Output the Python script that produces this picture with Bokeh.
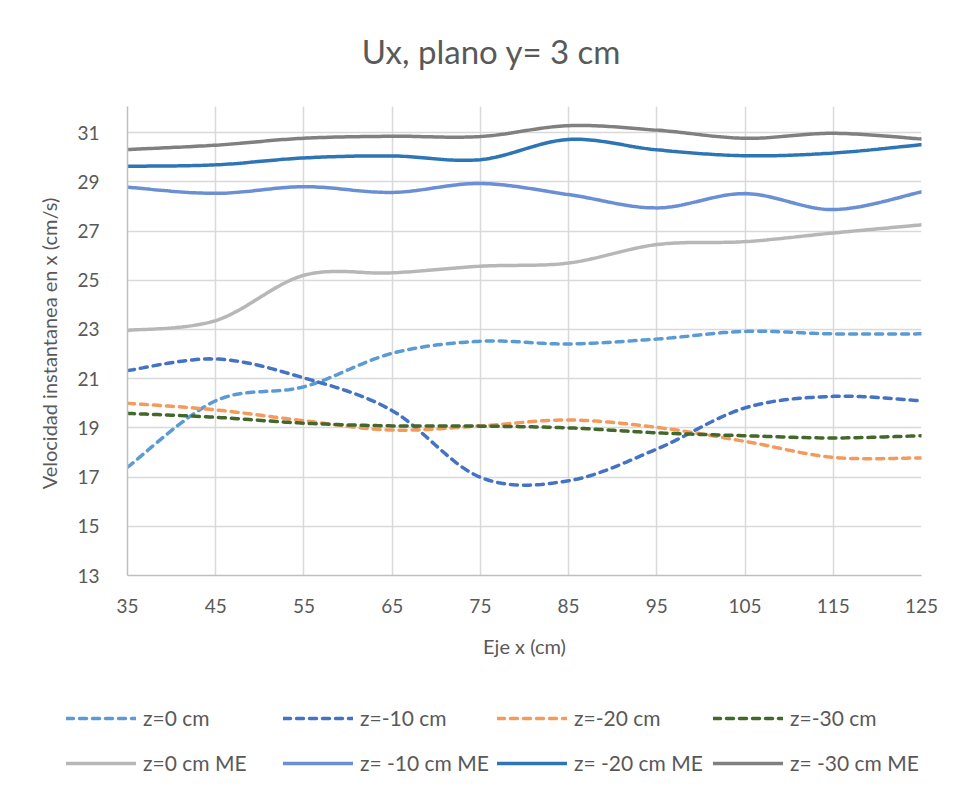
import numpy as np
from bokeh.plotting import figure
from bokeh.models import Legend, LegendItem, Range1d, FixedTicker, Label
from bokeh.embed import file_html
from bokeh.resources import INLINE

# ---- data ----
x_cm = [35, 45, 55, 65, 75, 85, 95, 105, 115, 125]
z0 = [17.4, 20.1, 20.67, 22.03, 22.52, 22.41, 22.61, 22.92, 22.82, 22.82]
z10 = [21.33, 21.8, 21.03, 19.7, 16.99, 16.85, 18.14, 19.81, 20.28, 20.1]
z20 = [20.0, 19.73, 19.29, 18.91, 19.08, 19.32, 19.02, 18.45, 17.8, 17.78]
z30 = [19.59, 19.43, 19.19, 19.08, 19.07, 19.0, 18.8, 18.68, 18.59, 18.68]
z0_me = [22.96, 23.36, 25.2, 25.3, 25.57, 25.7, 26.45, 26.57, 26.92, 27.25]
z10_me = [28.78, 28.53, 28.8, 28.57, 28.93, 28.48, 27.94, 28.52, 27.87, 28.59]
z20_me = [29.63, 29.69, 29.97, 30.05, 29.9, 30.72, 30.3, 30.06, 30.17, 30.51]
z30_me = [30.31, 30.49, 30.77, 30.85, 30.84, 31.28, 31.1, 30.77, 30.97, 30.74]

title_text = "Ux, plano y= 3 cm"
labels = ["z=0 cm", "z=-10 cm", "z=-20 cm", "z=-30 cm",
          "z=0 cm ME", "z= -10 cm ME", "z= -20 cm ME", "z= -30 cm ME"]
series = [z0, z10, z20, z30, z0_me, z10_me, z20_me, z30_me]
colors = ["#5B9BD5", "#4472C4", "#F39B5D", "#43682B",
          "#B7B7B7", "#6A8FD4", "#2E75B6", "#808080"]
dashed = [True, True, True, True, False, False, False, False]

x_ticks = [35, 45, 55, 65, 75, 85, 95, 105, 115, 125]
y_ticks = [13, 15, 17, 19, 21, 23, 25, 27, 29, 31]


def smooth(xs, ys, n=30):
    """Excel-like smoothed line (cubic Bezier through points, Catmull-Rom control points)."""
    P = np.column_stack([xs, ys]).astype(float)
    m = len(P)
    out = []
    t = np.linspace(0, 1, n)[:, None]
    for i in range(m - 1):
        p0 = P[i - 1] if i > 0 else P[i]
        p1, p2 = P[i], P[i + 1]
        p3 = P[i + 2] if i + 2 < m else P[i + 1]
        b1 = p1 + (p2 - p0) / 6.0
        b2 = p2 - (p3 - p1) / 6.0
        seg = ((1 - t) ** 3) * p1 + 3 * ((1 - t) ** 2) * t * b1 + 3 * (1 - t) * t ** 2 * b2 + t ** 3 * p2
        out.append(seg if i == 0 else seg[1:])
    arr = np.vstack(out)
    return arr[:, 0], arr[:, 1]


FONT = "Lato"
TXT = "#595959"


def line_style(c, d):
    kw = dict(line_color=c, line_width=3.5, line_cap="round")
    if d:
        kw["line_dash"] = "7 6"
    return kw


def strip(height):
    s = figure(width=956, height=height, output_backend="svg", toolbar_location=None,
               x_range=Range1d(0, 1), y_range=Range1d(0, 1),
               x_axis_type=None, y_axis_type=None,
               min_border=0, min_border_left=0, min_border_right=0,
               min_border_top=0, min_border_bottom=0)
    s.outline_line_color = None
    s.grid.visible = False
    s.border_fill_color = "white"
    s.background_fill_color = "white"
    return s


# ---- title strip ----
pt = strip(106)
pt.add_layout(Label(x=491, y=56, x_units="screen", y_units="screen", text=title_text,
                    text_font=FONT, text_font_size="33px", text_color=TXT,
                    text_align="center", text_baseline="middle"))

# ---- main chart ----
p = figure(width=956, height=589, output_backend="svg", toolbar_location=None,
           x_range=Range1d(35, 125), y_range=Range1d(13, 32.06),
           min_border_left=127, min_border_right=35, min_border_top=0, min_border_bottom=120)

p.outline_line_color = None
p.background_fill_color = "white"
p.border_fill_color = "white"

for ax in (p.xaxis[0], p.yaxis[0]):
    ax.axis_line_color = "#BFBFBF"
    ax.axis_line_width = 1.5
    ax.major_tick_line_color = None
    ax.minor_tick_line_color = None
    ax.major_label_text_font = FONT
    ax.major_label_text_font_size = "19px"
    ax.major_label_text_color = TXT
    ax.axis_label_text_font = FONT
    ax.axis_label_text_font_size = "20px"
    ax.axis_label_text_font_style = "normal"
    ax.axis_label_text_color = TXT

p.xaxis[0].ticker = FixedTicker(ticks=x_ticks)
p.yaxis[0].ticker = FixedTicker(ticks=y_ticks)
p.xaxis[0].axis_label = "Eje x (cm)"
p.yaxis[0].axis_label = "Velocidad instantanea en  x (cm/s)"
p.xaxis[0].major_label_standoff = 17
p.xaxis[0].axis_label_standoff = 18
p.yaxis[0].major_label_standoff = 22
p.yaxis[0].axis_label_standoff = 13

p.xgrid.ticker = FixedTicker(ticks=x_ticks)
p.ygrid.ticker = FixedTicker(ticks=y_ticks)
for g in (p.xgrid[0], p.ygrid[0]):
    g.grid_line_color = "#D9D9D9"
    g.grid_line_width = 1.5

for ys, c, d in zip(series, colors, dashed):
    sx, sy = smooth(x_cm, ys)
    p.line(sx, sy, **line_style(c, d))

# ---- legend strip (separate canvas below the chart) ----
pl = strip(97)
# legend-key renderers: a single NaN point each, so nothing is drawn on the strip itself
leg_renderers = [pl.line([np.nan], [np.nan], **line_style(c, d)) for c, d in zip(colors, dashed)]
col_x = [66, 283, 497, 713]
for ci in range(4):
    items = [LegendItem(label=labels[ci], renderers=[leg_renderers[ci]]),
             LegendItem(label=labels[ci + 4], renderers=[leg_renderers[ci + 4]])]
    lg = Legend(items=items, location=(col_x[ci], 17), orientation="vertical",
                glyph_width=70, glyph_height=20, label_height=20, label_standoff=7,
                spacing=20, padding=0, margin=0, border_line_color=None,
                background_fill_alpha=0, label_text_font=FONT,
                label_text_font_size="21px", label_text_color=TXT)
    pl.add_layout(lg, "center")

open("out.html", "w").write(file_html([pt, p, pl], INLINE))
